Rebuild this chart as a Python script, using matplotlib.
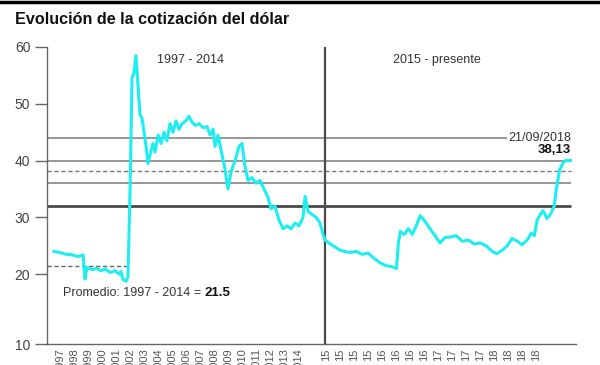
import matplotlib
matplotlib.use("Agg")
import matplotlib.pyplot as plt
import numpy as np
from matplotlib.lines import Line2D

# dollar quotation (decimal year, value)
fechas = [1997.00, 1997.40, 1997.80, 1998.20, 1998.59, 1998.93, 1999.06, 1999.19,
          1999.52, 1999.86, 2000.12, 2000.39, 2000.72, 2001.05, 2001.32, 2001.45,
          2001.58, 2001.78, 2001.91, 2002.05, 2002.18, 2002.31, 2002.44, 2002.58,
          2002.71, 2002.84, 2002.98, 2003.11, 2003.24, 2003.37, 2003.57, 2003.71,
          2003.91, 2004.11, 2004.30, 2004.50, 2004.70, 2004.90, 2005.10, 2005.30,
          2005.50, 2005.76, 2005.96, 2006.16, 2006.36, 2006.63, 2006.89, 2007.16,
          2007.36, 2007.56, 2007.69, 2007.89, 2008.16, 2008.35, 2008.55, 2008.75,
          2009.02, 2009.28, 2009.48, 2009.68, 2009.88, 2010.15, 2010.41, 2010.68,
          2010.94, 2011.21, 2011.41, 2011.67, 2011.94, 2012.21, 2012.47, 2012.74,
          2013.00, 2013.27, 2013.53, 2013.67, 2013.87, 2014.13, 2014.40, 2014.66,
          2014.86,
          2015.00, 2015.08, 2015.15, 2015.23, 2015.30, 2015.38, 2015.47, 2015.56,
          2015.65, 2015.74, 2015.83, 2015.92, 2016.02, 2016.08, 2016.11, 2016.14,
          2016.20, 2016.26, 2016.32, 2016.38, 2016.44, 2016.50, 2016.56, 2016.62,
          2016.68, 2016.74, 2016.82, 2016.89, 2016.98, 2017.08, 2017.17, 2017.26,
          2017.35, 2017.44, 2017.53, 2017.60, 2017.68, 2017.76, 2017.83, 2017.91,
          2017.98, 2018.06, 2018.12, 2018.17, 2018.21, 2018.26, 2018.30, 2018.36,
          2018.41, 2018.44, 2018.47, 2018.50, 2018.55, 2018.61, 2018.65, 2018.72]
valores = [24.0, 23.8, 23.5, 23.4, 23.1, 23.4, 19.3, 21.2,
           20.8, 21.0, 20.6, 20.9, 20.3, 20.6, 20.0, 20.5,
           19.2, 19.0, 19.6, 35.0, 54.5, 55.5, 58.5, 53.0,
           48.0, 47.5, 45.0, 42.5, 39.5, 41.0, 43.0, 41.5,
           44.5, 43.0, 45.0, 43.5, 46.5, 45.0, 47.0, 45.5,
           46.5, 47.0, 47.8, 46.8, 46.2, 46.5, 45.8, 46.0,
           44.5, 45.5, 42.5, 44.5, 41.0, 38.5, 35.0, 38.0,
           40.0, 42.5, 43.0, 39.0, 36.5, 37.0, 36.0, 36.5,
           35.0, 33.5, 31.5, 32.0, 29.5, 28.0, 28.5, 28.0,
           29.0, 28.5, 30.0, 33.7, 31.0, 30.5, 30.0, 29.0,
           27.0,
           26.0, 25.3, 24.8, 24.2, 24.0, 23.8, 24.0, 23.5,
           23.7, 22.8, 22.0, 21.5, 21.3, 21.0, 25.5, 27.5,
           27.0, 28.0, 27.0, 28.5, 30.3, 29.5, 28.5, 27.5,
           26.5, 25.5, 26.5, 26.5, 26.8, 25.8, 26.0, 25.3,
           25.5, 25.0, 24.0, 23.6, 24.2, 25.0, 26.3, 25.8,
           25.2, 26.0, 27.2, 26.8, 29.5, 30.5, 31.2, 29.8,
           30.5, 31.2, 32.0, 34.8, 38.3, 39.7, 40.0, 40.0]

lineas = [44, 40, 36]
promedio = 21.5
ultimo = 38.13
corte = 32

etiquetas_1 = [str(a) for a in range(1997, 2015)]
etiquetas_2 = ["15"] * 4 + ["16"] * 4 + ["17"] * 4 + ["18"] * 4

K = 66 / 15.06  # 2015-presente is drawn stretched


def fwd_x(t):
    t = np.asarray(t, float)
    return np.where(t < 2015, t - 1997, 18 + (t - 2015) * K)


def inv_x(u):
    u = np.asarray(u, float)
    return np.where(u < 18, u + 1997, 2015 + (u - 18) / K)


def fwd_y(v):
    v = np.asarray(v, float)
    return np.where(v >= 20, v, 20 - (20 - v) * 1.23)


def inv_y(u):
    u = np.asarray(u, float)
    return np.where(u >= 20, u, 20 - (20 - u) / 1.23)


plt.rcParams['font.family'] = ['Liberation Sans', 'DejaVu Sans']

fig = plt.figure(figsize=(6, 3.65), dpi=100)
ax = fig.add_axes([47 / 600, 1 - 344 / 365, 529 / 600, 297 / 365])
ax.set_xscale('function', functions=(fwd_x, inv_x))
ax.set_yscale('function', functions=(fwd_y, inv_y))
ax.set_xlim(1996.535, 2018.80)
ax.set_ylim(10, 60)

fin = fechas[-1]
x0 = ax.get_xlim()[0]
ax.hlines(44, x0, 2017.76, color='#7a7a7a', lw=1.1)
for v in lineas[1:]:
    ax.hlines(v, x0, fin, color='#7a7a7a', lw=1.1)
ax.hlines(ultimo, x0, fin, color='#777777', lw=1.0, linestyles=(0, (3, 2)))
ax.hlines(corte, x0, fin, color='#4a4a4a', lw=2.0)
ax.hlines(promedio, x0, 2002.0, color='#666666', lw=1.0, linestyles=(0, (3, 2)))
ax.vlines(2015, 10, 60, color='#4a4a4a', lw=1.6)

ax.plot(fechas, valores, color='#1eeef2', lw=2.2, solid_joinstyle='round')

for s in ['top', 'right']:
    ax.spines[s].set_visible(False)
for s in ['left', 'bottom']:
    ax.spines[s].set_color('#666666')
    ax.spines[s].set_linewidth(1.0)

ax.set_yticks([10, 20, 30, 40, 50, 60])
ax.tick_params(axis='y', length=9, width=1, color='#666666', labelsize=10,
               labelcolor='#444444', pad=3)
pos = list(np.linspace(1997.4, 2013.2, 18)) + list(np.linspace(2015.02, 2018.2, 16))
ax.set_xticks(pos, etiquetas_1 + etiquetas_2, rotation=90)
ax.tick_params(axis='x', length=0, labelsize=8, labelcolor='#555555', pad=3)
ax.minorticks_off()

txt = dict(color='#333333', fontsize=9)
ax.text(2006.03, 57.7, '1997 - 2014', ha='center', va='center', **txt)
ax.text(2016.70, 57.7, '2015 - presente', ha='center', va='center', **txt)
ax.text(fin, 44, '21/09/2018', ha='right', va='center', **txt)
ax.text(fin, 41.9, '38,13', ha='right', va='center', fontweight='bold',
        color='#111111', fontsize=9.5)
t1 = ax.text(1997.6, 17.3, 'Promedio: 1997 - 2014 = ', ha='left', va='center', **txt)
ax.annotate('21.5', xy=(1, 0), xycoords=t1, va='bottom', ha='left',
            fontweight='bold', color='#111111', fontsize=9.5)

fig.text(15 / 600, 1 - 19 / 365, 'Evolución de la cotización del dólar',
         fontsize=11.6, fontweight='bold', color='#111111', va='center')
fig.add_artist(Line2D([0, 1], [1 - 1.5 / 365, 1 - 1.5 / 365], color='black', lw=2.5,
                      transform=fig.transFigure))

fig.savefig('out.png', dpi=100)
